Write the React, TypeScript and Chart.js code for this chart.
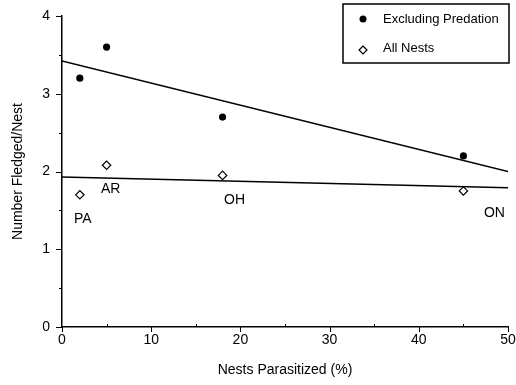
import React, { useEffect, useRef } from 'react';
import { Chart, registerables } from 'chart.js';

Chart.register(...registerables);

const siteLabels = ['PA', 'AR', 'OH', 'ON'];
const parasitized = [2, 5, 18, 45];
const excludingPredation = [3.2, 3.6, 2.7, 2.2];
const allNests = [1.7, 2.08, 1.95, 1.75];
const fitX = [0, 50];
const fitExcluding = [3.42, 2.0];
const fitAll = [1.93, 1.79];
const legendLabels = ['Excluding Predation', 'All Nests'];
const xMajorTicks = [0, 10, 20, 30, 40, 50];
const xMinorTicks = [5, 15, 25, 35, 45];
const yMajorTicks = [0, 1, 2, 3, 4];
const yMinorTicks = [0.5, 1.5, 2.5, 3.5];

const FONT = "'Liberation Sans', Arial, Helvetica, sans-serif";
// pixel offsets of each site label from its "All Nests" point (style)
const labelOffsets: [number, number][] = [[3, 24], [4, 24], [12, 25], [31, 22]];

const decorPlugin = {
  id: 'decor',
  afterDraw(chart: any) {
    const ctx = chart.ctx as CanvasRenderingContext2D;
    const xs = chart.scales.x;
    const ys = chart.scales.y;
    const area = chart.chartArea;
    ctx.save();
    ctx.strokeStyle = '#000';
    ctx.lineWidth = 1;
    const x0 = xs.getPixelForValue(0);
    const yb = ys.getPixelForValue(0);
    xMajorTicks.forEach((v) => {
      const p = Math.round(xs.getPixelForValue(v)) + 0.5;
      ctx.beginPath(); ctx.moveTo(p, yb); ctx.lineTo(p, yb + 5); ctx.stroke();
    });
    xMinorTicks.forEach((v) => {
      const p = Math.round(xs.getPixelForValue(v)) + 0.5;
      ctx.beginPath(); ctx.moveTo(p, yb); ctx.lineTo(p, yb - 3); ctx.stroke();
    });
    yMajorTicks.forEach((v) => {
      const p = Math.round(ys.getPixelForValue(v)) + 0.5;
      ctx.beginPath(); ctx.moveTo(x0, p); ctx.lineTo(x0 - 6, p); ctx.stroke();
    });
    yMinorTicks.forEach((v) => {
      const p = Math.round(ys.getPixelForValue(v)) + 0.5;
      ctx.beginPath(); ctx.moveTo(x0, p); ctx.lineTo(x0 - 3, p); ctx.stroke();
    });
    // site labels
    ctx.fillStyle = '#000';
    ctx.font = `14px ${FONT}`;
    ctx.textAlign = 'center';
    ctx.textBaseline = 'middle';
    siteLabels.forEach((s, i) => {
      const px = xs.getPixelForValue(parasitized[i]) + labelOffsets[i][0];
      const py = ys.getPixelForValue(allNests[i]) + labelOffsets[i][1];
      ctx.fillText(s, px, py);
    });
    // legend
    const bx = area.right - 165;
    const by = 4;
    const bw = 166;
    const bh = 59;
    ctx.fillStyle = '#fff';
    ctx.fillRect(bx, by, bw, bh);
    ctx.lineWidth = 1.5;
    ctx.strokeRect(bx, by, bw, bh);
    ctx.font = `13px ${FONT}`;
    ctx.textAlign = 'left';
    ctx.fillStyle = '#000';
    ctx.beginPath();
    ctx.arc(bx + 20, by + 15, 3.5, 0, Math.PI * 2);
    ctx.fill();
    ctx.fillText(legendLabels[0], bx + 40, by + 15);
    const dx = bx + 20, dy = by + 46, r = 4;
    ctx.beginPath();
    ctx.moveTo(dx, dy - r); ctx.lineTo(dx + r, dy); ctx.lineTo(dx, dy + r); ctx.lineTo(dx - r, dy); ctx.closePath();
    ctx.fillStyle = '#fff'; ctx.fill();
    ctx.lineWidth = 1.2; ctx.stroke();
    ctx.fillStyle = '#000';
    ctx.fillText(legendLabels[1], bx + 40, by + 44);
    ctx.restore();
  },
};

export default function App() {
  const ref = useRef<HTMLCanvasElement | null>(null);
  useEffect(() => {
    document.body.style.margin = '0';
    const chart = new Chart(ref.current as HTMLCanvasElement, {
      type: 'scatter',
      data: {
        datasets: [
          {
            label: 'Excluding Predation fit',
            type: 'line',
            data: fitX.map((x, i) => ({ x, y: fitExcluding[i] })),
            borderColor: '#000',
            borderWidth: 1.5,
            pointRadius: 0,
            fill: false,
          },
          {
            label: 'All Nests fit',
            type: 'line',
            data: fitX.map((x, i) => ({ x, y: fitAll[i] })),
            borderColor: '#000',
            borderWidth: 1.5,
            pointRadius: 0,
            fill: false,
          },
          {
            label: legendLabels[0],
            data: parasitized.map((x, i) => ({ x, y: excludingPredation[i] })),
            pointStyle: 'circle',
            pointRadius: 3.6,
            backgroundColor: '#000',
            borderColor: '#000',
            borderWidth: 0,
          },
          {
            label: legendLabels[1],
            data: parasitized.map((x, i) => ({ x, y: allNests[i] })),
            pointStyle: 'rectRot',
            pointRadius: 4.2,
            backgroundColor: '#fff',
            borderColor: '#000',
            borderWidth: 1.2,
          },
        ],
      },
      options: {
        animation: false,
        responsive: false,
        layout: { padding: { left: 0, top: 16, right: 8, bottom: 0 } },
        plugins: { legend: { display: false }, tooltip: { enabled: false } },
        scales: {
          x: {
            type: 'linear',
            min: 0,
            max: 50,
            afterFit: (s: any) => { s.height = 58; s.paddingLeft = 0; s.paddingRight = 0; },
            afterBuildTicks: (s: any) => { s.ticks = xMajorTicks.map((v) => ({ value: v })); },
            grid: { display: true, drawOnChartArea: false, drawTicks: false },
            border: { display: true, color: '#000', width: 1.5 },
            ticks: { color: '#000', font: { family: FONT, size: 14 }, padding: 5, maxRotation: 0 },
            title: {
              display: true,
              text: 'Nests Parasitized (%)',
              color: '#000',
              font: { family: FONT, size: 14 },
              padding: { top: 0, bottom: 6.6 },
            },
          },
          y: {
            type: 'linear',
            min: 0,
            max: 4,
            afterFit: (s: any) => { s.width = 62; s.paddingTop = 0; s.paddingBottom = 0; },
            afterBuildTicks: (s: any) => { s.ticks = yMajorTicks.map((v) => ({ value: v })); },
            grid: { display: true, drawOnChartArea: false, drawTicks: false },
            border: { display: true, color: '#000', width: 1.5 },
            ticks: { color: '#000', font: { family: FONT, size: 14 }, padding: 12 },
            title: {
              display: true,
              text: 'Number Fledged/Nest',
              color: '#000',
              font: { family: FONT, size: 14 },
              padding: { top: 9.6, bottom: 0 },
            },
          },
        },
      },
      plugins: [decorPlugin],
    });
    return () => chart.destroy();
  }, []);
  return (
    <div style={{ width: 516, height: 385 }}>
      <canvas ref={ref} width={516} height={385} />
    </div>
  );
}
